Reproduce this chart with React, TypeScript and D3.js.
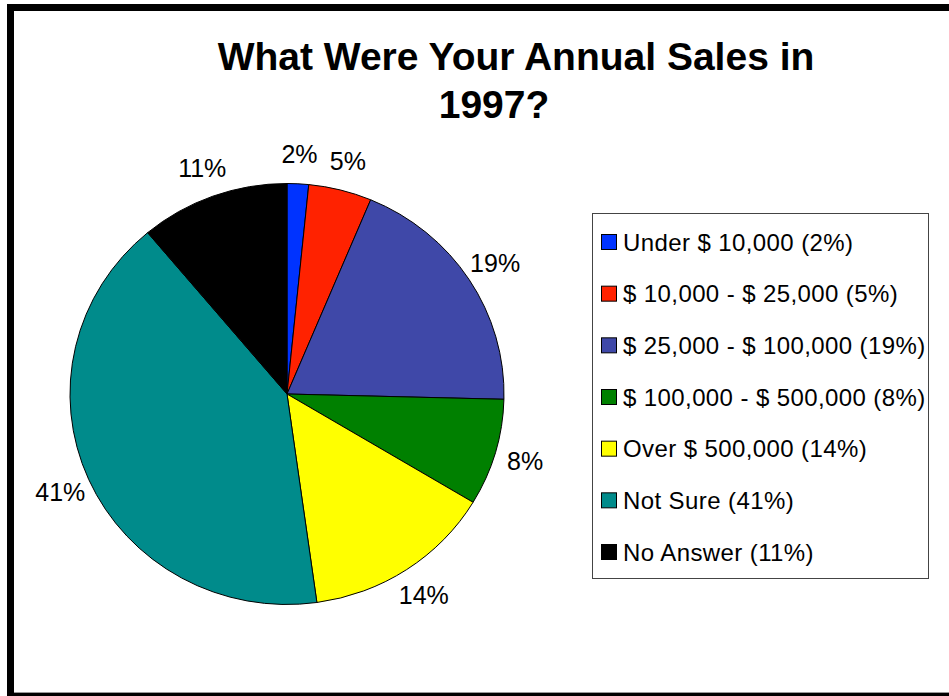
import * as d3 from "d3";
import React from "react";

const categories = [
  "Under $ 10,000",
  "$ 10,000 - $ 25,000",
  "$ 25,000 - $ 100,000",
  "$ 100,000 - $ 500,000",
  "Over $ 500,000",
  "Not Sure",
  "No Answer",
];
// rounded percentages printed on the chart
const values = [2, 5, 19, 8, 14, 41, 11];
// slice sizes as drawn in the picture (unrounded)
const shares = [1.6, 4.7, 19.1, 8.2, 14.2, 41.1, 11.1];
const colors = ["#0033ff", "#ff2200", "#3f48a8", "#008000", "#ffff00", "#008b8b", "#000000"];
const titleLines = ["What Were Your Annual Sales in", "1997?"];

export default function App() {
  const width = 949;
  const height = 696;
  const cx = 287;
  const cy = 394;
  const rx = 217;
  const ry = 210.5;
  const labelR = 248;

  const pie = d3.pie<number>().sort(null).value((d) => d);
  const arcs = pie(shares);
  const arc = d3.arc<d3.PieArcDatum<number>>().innerRadius(0).outerRadius(rx);
  const labelArc = d3.arc<d3.PieArcDatum<number>>().innerRadius(labelR).outerRadius(labelR);

  // legend rows
  const legendY = d3.scalePoint<number>().domain(d3.range(categories.length)).range([242, 552]);

  return (
    <svg
      width={width}
      height={height}
      style={{ position: "absolute", left: 0, top: 0, background: "#fff" }}
      fontFamily="Arial, 'Liberation Sans', sans-serif"
    >
      {/* outer frame */}
      <rect x={0} y={0} width={width} height={height} fill="#fff" />
      <rect x={7} y={4} width={width} height={7} fill="#000" />
      <rect x={7} y={4} width={7} height={692} fill="#000" />
      <rect x={7} y={692} width={width} height={4} fill="#000" />
      <rect x={14} y={692} width={width} height={1} fill="#999" />

      {/* title */}
      <text x={516} y={70} textAnchor="middle" fontSize={39} fontWeight="bold">
        {titleLines[0]}
      </text>
      <text x={494} y={118} textAnchor="middle" fontSize={39} fontWeight="bold">
        {titleLines[1]}
      </text>

      {/* pie */}
      <g transform={`translate(${cx},${cy}) scale(1,${ry / rx})`}>
        {arcs.map((a, i) => (
          <path
            key={i}
            d={arc(a) || ""}
            fill={colors[i]}
            stroke="#000"
            strokeWidth={1}
            vectorEffect="non-scaling-stroke"
          />
        ))}
      </g>
      {arcs.map((a, i) => {
        const [lx, ly] = labelArc.centroid(a);
        return (
          <text
            key={i}
            x={cx + lx}
            y={cy + ly * (ry / rx)}
            textAnchor="middle"
            dominantBaseline="central"
            fontSize={25}
          >
            {values[i]}%
          </text>
        );
      })}

      {/* legend */}
      <rect x={592.5} y={213.5} width={336} height={365} fill="#fff" stroke="#444" strokeWidth={1} />
      {categories.map((c, i) => (
        <g key={c} transform={`translate(601,${legendY(i)})`}>
          <rect x={0.5} y={-7.5} width={15} height={15} fill={colors[i]} stroke="#000" strokeWidth={1} />
          <text x={22} y={0} dominantBaseline="central" fontSize={24} letterSpacing={0.4}>
            {c} ({values[i]}%)
          </text>
        </g>
      ))}
    </svg>
  );
}
